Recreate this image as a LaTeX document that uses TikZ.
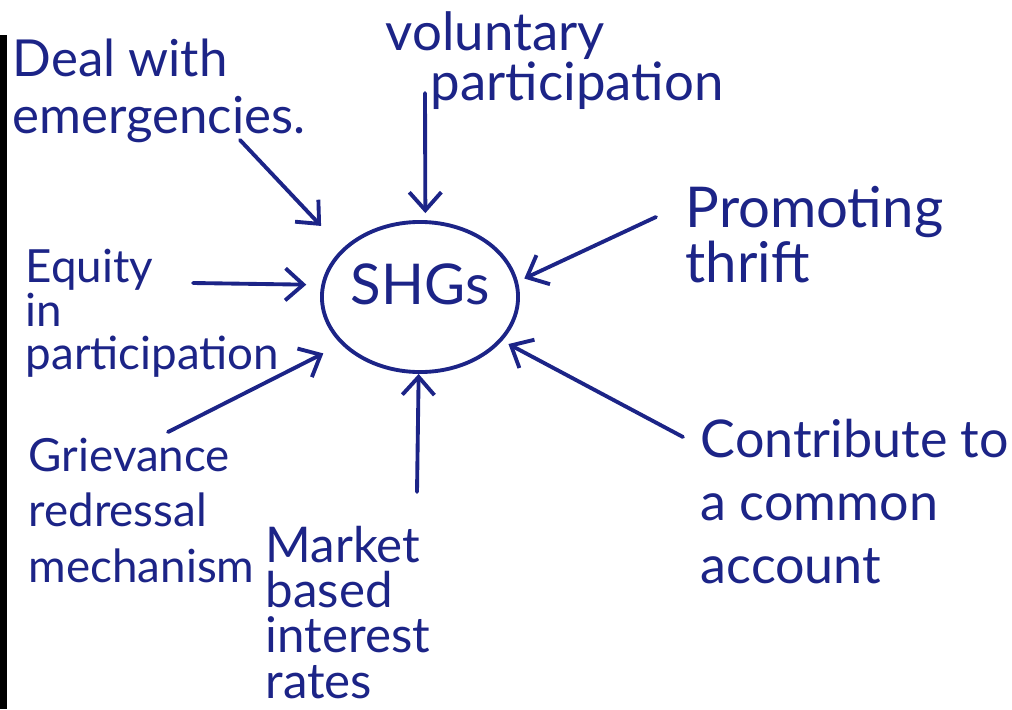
\documentclass[tikz,border=0pt]{standalone}
\usepackage{fontspec}
\setmainfont{Lato}
\usetikzlibrary{shapes.geometric,arrows.meta}
\definecolor{ink}{RGB}{28,36,135}
\newcommand\tightlines{\lineskiplimit=-16000pt\relax}
\newcommand\hand[2]{\fontsize{#1}{#2}\selectfont\tightlines}

\begin{document}
\begin{tikzpicture}[x=0.01cm, y=-0.01cm,
	every node/.style={text=ink},
	lbl/.style={align=left, inner sep=0pt, anchor=north west},
	arr/.style={draw=ink, line width=1.1pt, line cap=round, -{Straight Barb[length=1.8mm,width=3.2mm]}}]
	\useasboundingbox (0,0) rectangle (1012,709);
	\fill[black] (0,35) rectangle (7,709);
	\node[ellipse, draw=ink, line width=1.1pt, minimum width=1.96cm, minimum height=1.5cm, inner sep=0pt, text depth=2.6mm, font=\hand{16}{19}] (shg) at (420,297) {SHGs};
	\node[lbl, font=\hand{14.5}{16.2}] (emerg) at (12,38) {Deal with\\emergencies.};
	\node[lbl, font=\hand{15}{14.2}] (volpart) at (385,11) {voluntary\\\hspace*{0.45cm}participation};
	\node[lbl, font=\hand{16}{15.6}] (thrift) at (685,186) {Promoting\\thrift};
	\node[lbl, font=\hand{13}{12.5}] (equity) at (25,248) {Equity\\in\\participation};
	\node[lbl, font=\hand{13}{15.9}] (grievance) at (28,437) {Grievance\\redressal\\mechanism};
	\node[lbl, font=\hand{14}{12.8}] (market) at (265,526) {Market\\based\\interest\\rates};
	\node[lbl, font=\hand{14.8}{18}] (account) at (700,418) {Contribute to\\a common\\account};
	\coordinate (emerg-t) at (240,140);
	\coordinate (volpart-t) at (425,93);
	\coordinate (thrift-t) at (656,217);
	\coordinate (equity-t) at (193,283);
	\coordinate (grievance-t) at (168,432);
	\coordinate (market-t) at (417,492);
	\coordinate (account-t) at (683,437);
	\draw[arr, shorten >=0.31cm] (emerg-t) -- (shg.148);
	\draw[arr, shorten >=0.07cm] (volpart-t) -- (shg.86);
	\draw[arr, shorten >=0.07cm] (thrift-t) -- (shg.9.5);
	\draw[arr, shorten >=0.15cm] (equity-t) -- (shg.173);
	\draw[arr, shorten >=0.2cm] (grievance-t) -- (shg.211);
	\draw[arr] (market-t) -- (shg.269);
	\draw[arr, shorten >=0.07cm] (account-t) -- (shg.332);
\end{tikzpicture}
\end{document}
